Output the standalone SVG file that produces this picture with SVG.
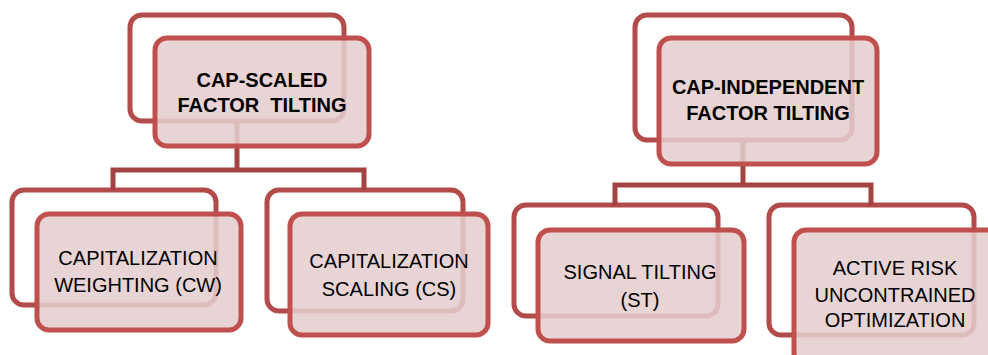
<svg xmlns="http://www.w3.org/2000/svg" width="988" height="355" viewBox="0 0 988 355">
  <style>
    .back { fill: none; stroke: #b24b49; stroke-width: 5; }
    .front { fill: #e5cece; fill-opacity: 0.87; stroke: #c0504d; stroke-width: 5; }
    .link { fill: none; stroke: #a34341; stroke-width: 5; stroke-linejoin: miter; }
    .t { font-family: "Liberation Sans", Arial, sans-serif; font-size: 20px; fill: #000; text-anchor: middle; }
    .b { font-weight: bold; }
  </style>
  <rect width="988" height="355" fill="#fff"/>

  <!-- back frames -->
  <g id="frames-back">
    <rect class="back" x="130" y="15" width="214" height="106" rx="12"/>
    <rect class="back" x="635" y="15" width="217" height="125" rx="12"/>
    <rect class="back" x="12" y="190" width="204" height="115" rx="12"/>
    <rect class="back" x="267" y="190" width="196" height="121" rx="12"/>
    <rect class="back" x="514" y="205" width="204" height="111" rx="12"/>
    <rect class="back" x="769" y="205" width="205" height="130" rx="12"/>
  </g>

  <!-- connectors -->
  <g id="connectors">
    <polyline class="link" points="113,190 113,170 364,170 364,190"/>
    <line class="link" x1="237" y1="121" x2="237" y2="170"/>
    <polyline class="link" points="615,205 615,185 871,185 871,205"/>
    <line class="link" x1="743" y1="140" x2="743" y2="185"/>
  </g>

  <g id="cap-scaled">
    <rect class="front" x="155" y="38" width="214" height="108" rx="12"/>
    <text class="t b" x="262" y="87">CAP-SCALED</text>
    <text class="t b" x="262" y="112" xml:space="preserve">FACTOR  TILTING</text>
  </g>

  <g id="cap-independent">
    <rect class="front" x="659" y="38" width="218" height="126" rx="12"/>
    <text class="t b" x="768" y="94">CAP-INDEPENDENT</text>
    <text class="t b" x="768" y="120">FACTOR TILTING</text>
  </g>

  <g id="cw">
    <rect class="front" x="37" y="214" width="204" height="116" rx="12"/>
    <text class="t" x="138" y="265">CAPITALIZATION</text>
    <text class="t" x="138" y="292">WEIGHTING (CW)</text>
  </g>

  <g id="cs">
    <rect class="front" x="290" y="214" width="198" height="121" rx="12"/>
    <text class="t" x="389" y="268">CAPITALIZATION</text>
    <text class="t" x="389" y="296">SCALING (CS)</text>
  </g>

  <g id="st">
    <rect class="front" x="538" y="230" width="206" height="111" rx="12"/>
    <text class="t" x="640" y="279">SIGNAL TILTING</text>
    <text class="t" x="640" y="307">(ST)</text>
  </g>

  <g id="aruo">
    <rect class="front" x="794" y="230" width="210" height="135" rx="12"/>
    <text class="t" x="895" y="275">ACTIVE RISK</text>
    <text class="t" x="895" y="302">UNCONTRAINED</text>
    <text class="t" x="895" y="327">OPTIMIZATION</text>
  </g>
</svg>
